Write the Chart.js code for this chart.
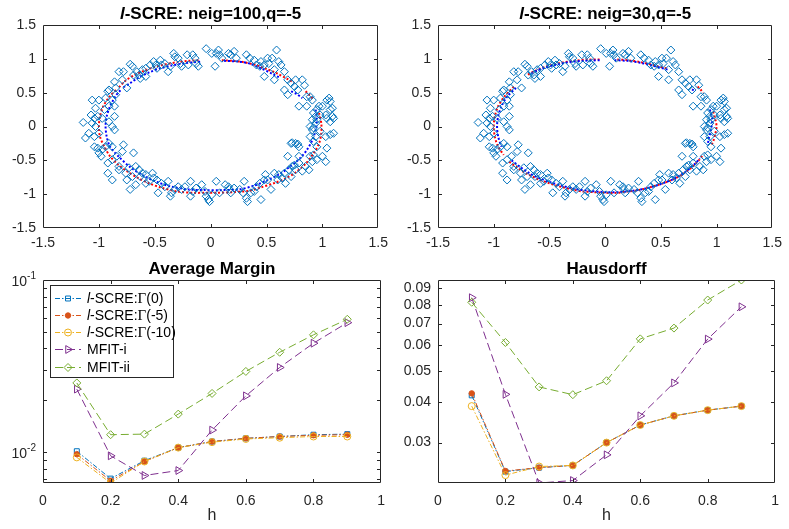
<!DOCTYPE html>
<html>
<head>
<meta charset="utf-8">
<script src="https://cdn.jsdelivr.net/npm/chart.js@4.4.1/dist/chart.umd.min.js"></script>
<style>
  body { margin: 0; background: #fff; width: 789px; height: 529px; position: relative; overflow: hidden; }
  canvas { position: absolute; }
</style>
</head>
<body>
<canvas id="fit100" width="395" height="255" style="left:0;top:0"></canvas>
<canvas id="fit30" width="394" height="255" style="left:395px;top:0"></canvas>
<canvas id="margin" width="395" height="274" style="left:0;top:255px"></canvas>
<canvas id="haus" width="394" height="274" style="left:395px;top:255px"></canvas>
<script>
// noisy samples around the ellipse (same set in both upper panels)
const samplePoints = [
  [-0.72,0.92],[-0.70,0.89],[-0.66,0.81],[-0.64,0.76],[-0.61,0.84],[-0.58,0.86],[-0.54,0.91],[-0.51,0.96],
  [-0.49,0.91],[-0.48,0.86],[-0.45,0.98],[-0.44,0.91],[-0.41,0.93],[-0.38,0.81],[-0.36,0.89],[-0.33,1.08],
  [-0.32,1.03],[-0.29,1.01],[-0.27,0.93],[-0.26,0.89],[-0.21,1.06],[-0.20,0.91],[-0.16,1.06],[-0.14,1.01],
  [-0.13,0.93],[-0.11,0.89],[-0.04,1.15],[0.01,1.08],[0.04,0.89],[0.05,1.08],[0.07,1.13],[0.08,1.06],
  [0.10,1.01],[0.16,1.08],[0.18,1.06],[0.21,1.11],[0.23,1.01],[0.32,1.06],[0.35,1.01],[0.39,0.98],
  [0.41,0.91],[0.44,0.89],[0.45,0.96],[0.48,0.91],[0.51,1.01],[0.52,0.93],[0.55,1.01],[0.57,0.84],
  [0.59,1.13],[0.61,0.96],[0.63,0.91],[0.66,0.81],[0.69,0.69],[0.72,0.64],[0.75,0.59],[0.76,0.69],
  [0.82,0.69],[0.84,0.61],[0.78,0.54],[0.86,0.44],[0.91,0.39],[0.48,0.74],[0.57,0.69],[0.66,0.54],
  [0.79,0.30],[0.69,0.47],
  [-1.00,0.39],[-0.94,0.42],[-0.92,0.52],[-0.91,0.54],[-0.85,0.57],[-0.86,0.66],[-0.82,0.81],[-0.78,0.81],
  [-0.79,0.69],[-0.75,0.57],[-0.86,0.30],[-0.91,0.30],[-1.03,0.27],[-1.06,0.39],[-0.95,0.25],[-0.88,0.39],
  [-0.85,0.47],[-0.69,0.76],[-0.63,0.71],[-0.58,0.74],
  [-1.14,0.06],[-1.12,-0.17],[-1.09,-0.10],[-1.06,0.05],[-1.04,0.12],[-1.03,0.00],[-1.07,0.17],[-1.04,-0.30],
  [-1.01,-0.32],[-1.00,-0.39],[-0.97,-0.34],[-0.94,-0.30],[-0.91,-0.25],[-0.88,-0.30],[-0.86,-0.05],[-0.88,0.00],
  [-0.91,0.07],[-0.86,0.15],[-0.97,0.12],[-1.01,0.15],[-0.78,-0.27],[-1.00,-0.10],[-1.04,-0.15],
  [-0.98,-0.44],[-0.92,-0.54],[-0.88,-0.49],[-0.84,-0.44],[-0.79,-0.37],[-0.92,-0.69],[-0.88,-0.79],[-0.82,-0.64],
  [-0.76,-0.69],[-0.75,-0.79],[-0.70,-0.74],[-0.69,-0.39],[-0.67,-0.59],[-0.64,-0.64],[-0.63,-0.74],[-0.61,-0.69],
  [-0.58,-0.84],[-0.55,-0.81],[-0.52,-0.69],[-0.51,-0.76],[-0.48,-0.79],[-0.47,-0.98],[-0.72,-0.93],[-0.67,-0.86],
  [-0.58,-0.71],[-0.82,-0.59],[-0.73,-0.61],
  [-0.44,-0.84],[-0.41,-0.89],[-0.38,-0.81],[-0.36,-1.03],[-0.35,-0.98],[-0.32,-0.93],[-0.29,-0.89],[-0.26,-0.93],
  [-0.23,-0.89],[-0.18,-0.81],[-0.18,-1.03],[-0.16,-0.96],[-0.13,-0.91],[-0.08,-0.86],[-0.05,-0.96],[-0.04,-1.03],
  [-0.02,-1.08],[-0.01,-1.11],[0.01,-1.01],[0.05,-0.81],[0.08,-0.98],[0.13,-0.86],[0.16,-0.89],[0.17,-0.93],
  [0.18,-0.98],[0.21,-0.91],[0.26,-0.93],[0.29,-0.98],[0.30,-0.81],[0.32,-1.06],[0.33,-1.11],[0.36,-0.98],
  [0.39,-0.96],[0.41,-0.89],[0.44,-0.84],[0.45,-1.08],[0.48,-0.79],[0.49,-0.71],
  [0.51,-0.79],[0.54,-0.93],[0.57,-0.69],[0.60,-0.79],[0.61,-0.71],[0.64,-0.76],[0.66,-0.69],[0.67,-0.84],
  [0.69,-0.44],[0.70,-0.64],[0.72,-0.74],[0.73,-0.59],[0.75,-0.57],[0.76,-0.64],[0.79,-0.54],[0.82,-0.66],
  [0.85,-0.59],[0.88,-0.64],[0.91,-0.52],[0.92,-0.42],[0.95,-0.49],[1.00,-0.44],[1.03,-0.52],[1.04,-0.32],
  [0.89,-0.44],[0.79,-0.44],
  [0.72,-0.25],[0.73,-0.24],[0.76,-0.25],[0.78,-0.26],[0.79,-0.30],[0.95,-0.30],[0.94,-0.15],[0.92,-0.02],
  [0.91,-0.05],[0.94,0.05],[0.95,0.10],[0.91,0.10],[0.92,0.20],[0.95,0.25],[0.97,0.30],[1.00,0.30],
  [1.03,0.17],[1.04,0.12],[1.07,0.07],[1.09,0.15],[1.10,0.12],[1.07,0.25],[1.06,0.42],[1.07,0.37],
  [1.09,0.27],[0.98,-0.07],[1.03,-0.15],[1.07,-0.12],[1.10,-0.10],[0.89,-0.15],[0.92,-0.22],[0.86,0.30],
  [0.89,0.44],[1.04,0.39],[0.89,0.00],[0.94,0.15],[0.98,0.17]
];

// recovered curve pieces, neig=100
const redArcs100 = [
  [[-0.82,0.58],[-0.76,0.68],[-0.68,0.76],[-0.6,0.82],[-0.5,0.88],[-0.4,0.92],[-0.3,0.95],[-0.2,0.97],[-0.1,0.98]],
  [[0.1,0.98],[0.2,0.97],[0.3,0.95],[0.4,0.91],[0.5,0.85],[0.6,0.78],[0.7,0.69],[0.75,0.64]],
  [[0.85,0.52],[0.88,0.47],[0.92,0.4]],
  [[0.97,0.2],[0.99,0.05],[0.99,-0.1],[0.97,-0.25],[0.92,-0.4],[0.85,-0.55],[0.76,-0.68],[0.68,-0.76],[0.58,-0.83],
   [0.45,-0.9],[0.35,-0.95],[0.2,-0.97],[0.05,-0.98],[-0.05,-0.98],[-0.15,-0.98],[-0.3,-0.96],[-0.45,-0.9],
   [-0.55,-0.84],[-0.65,-0.76],[-0.75,-0.66],[-0.83,-0.56],[-0.9,-0.44],[-0.95,-0.3],[-0.99,-0.15],[-1.0,0],
   [-0.99,0.15],[-0.96,0.3],[-0.9,0.45],[-0.84,0.55]]
];
const blueArcs100 = [
  [[-0.78,0.58],[-0.72,0.64],[-0.65,0.72],[-0.55,0.8],[-0.45,0.86],[-0.35,0.9],[-0.25,0.93],[-0.15,0.95],[-0.08,0.96]],
  [[0.12,0.97],[0.25,0.96],[0.35,0.93],[0.45,0.86],[0.55,0.78],[0.62,0.72]],
  [[0.72,0.52],[0.77,0.48],[0.82,0.42]],
  [[0.94,0.25],[0.95,0.1],[0.94,-0.05],[0.91,-0.2],[0.86,-0.35],[0.8,-0.47],[0.72,-0.58],[0.62,-0.7],[0.5,-0.8],
   [0.38,-0.88],[0.25,-0.93],[0.1,-0.94],[-0.05,-0.94],[-0.2,-0.93],[-0.35,-0.89],[-0.48,-0.82],[-0.6,-0.73],
   [-0.72,-0.6],[-0.82,-0.45],[-0.9,-0.3],[-0.93,-0.15],[-0.94,0],[-0.93,0.15],[-0.9,0.3],[-0.85,0.45],[-0.8,0.55]]
];

// recovered curve pieces, neig=30
const redArcs30 = [
  [[-0.82,0.59],[-0.9,0.45],[-0.96,0.3],[-0.99,0.15],[-1.0,0.0],[-0.99,-0.15],[-0.96,-0.3],[-0.91,-0.42]],
  [[-0.86,-0.52],[-0.78,-0.62],[-0.7,-0.7],[-0.6,-0.78],[-0.5,-0.84],[-0.4,-0.89],[-0.3,-0.93],[-0.2,-0.96],
   [-0.1,-0.97],[0.0,-0.98],[0.1,-0.98],[0.2,-0.96],[0.3,-0.94],[0.4,-0.9],[0.5,-0.85],[0.6,-0.79],[0.7,-0.7],
   [0.78,-0.6],[0.84,-0.5],[0.88,-0.42]],
  [[0.97,0.22],[0.99,0.1],[1.0,0.0],[0.99,-0.1],[0.97,-0.22],[0.95,-0.28]],
  [[0.83,0.59],[0.86,0.54],[0.88,0.5]],
  [[0.55,0.86],[0.45,0.9],[0.32,0.95],[0.2,0.98],[0.1,0.99]],
  [[-0.05,0.99],[-0.15,0.99],[-0.28,0.97],[-0.4,0.94],[-0.52,0.89],[-0.63,0.82],[-0.7,0.76]]
];
const blueArcs30 = [
  [[-0.8,0.57],[-0.88,0.44],[-0.93,0.3],[-0.96,0.15],[-0.97,0.0],[-0.96,-0.15],[-0.93,-0.3]],
  [[-0.84,-0.5],[-0.76,-0.6],[-0.68,-0.69],[-0.58,-0.77],[-0.48,-0.83],[-0.38,-0.88],[-0.28,-0.92],[-0.15,-0.95],
   [0.0,-0.97],[0.12,-0.97],[0.25,-0.95],[0.38,-0.91],[0.5,-0.85],[0.62,-0.77],[0.72,-0.67],[0.8,-0.56],[0.85,-0.47]],
  [[0.94,0.25],[0.96,0.1],[0.95,-0.05],[0.93,-0.18],[0.92,-0.28]],
  [[0.78,0.55],[0.81,0.52]],
  [[0.56,0.84],[0.45,0.89],[0.32,0.94],[0.2,0.97],[0.08,0.98]],
  [[-0.05,0.98],[-0.2,0.97],[-0.33,0.95],[-0.45,0.91],[-0.56,0.86],[-0.66,0.79]]
];

const hValues = [0.1, 0.2, 0.3, 0.4, 0.5, 0.6, 0.7, 0.8, 0.9];

const marginG0    = [0.0101, 0.0070, 0.0089, 0.0106, 0.0115, 0.0120, 0.0123, 0.0126, 0.0127];
const marginG5    = [0.0097, 0.0068, 0.0088, 0.0106, 0.0115, 0.0120, 0.0123, 0.0125, 0.0126];
const marginG10   = [0.0093, 0.0066, 0.0088, 0.0106, 0.0114, 0.0119, 0.0121, 0.0123, 0.0123];
const marginMfit1 = [0.0232, 0.0095, 0.0073, 0.0078, 0.0134, 0.0212, 0.0310, 0.0429, 0.0565];
const marginMfit2 = [0.0252, 0.0126, 0.0127, 0.0166, 0.0219, 0.0294, 0.0380, 0.0480, 0.0591];

const hausG0    = [0.0420, 0.0244, 0.0251, 0.0255, 0.0300, 0.0340, 0.0363, 0.0378, 0.0389];
const hausG5    = [0.0426, 0.0245, 0.0251, 0.0255, 0.0300, 0.0340, 0.0363, 0.0378, 0.0389];
const hausG10   = [0.0389, 0.0238, 0.0253, 0.0255, 0.0300, 0.0340, 0.0363, 0.0378, 0.0389];
const hausMfit1 = [0.0842, 0.0423, 0.0225, 0.0229, 0.0275, 0.0363, 0.0459, 0.0627, 0.0789];
const hausMfit2 = [0.0815, 0.0612, 0.0446, 0.0422, 0.0466, 0.0628, 0.0678, 0.0828, 0.0955];

const coordTicks  = [-1.5, -1, -0.5, 0, 0.5, 1, 1.5];
const hTicks      = [0, 0.2, 0.4, 0.6, 0.8, 1];
const marginTicks = [0.007, 0.008, 0.009, 0.01, 0.02, 0.03, 0.04, 0.05, 0.06, 0.07, 0.08, 0.09, 0.1];
const marginDecades = [0.01, 0.1];
const hausTicks   = [0.03, 0.04, 0.05, 0.06, 0.07, 0.08, 0.09];

const AXIS = '#262626';
const FONT = "'Liberation Sans', Arial, Helvetica, sans-serif";
const SERIF = "'Liberation Serif', 'Times New Roman', serif";

const C_BLUE = '#0072BD', C_ORANGE = '#D95319', C_YELLOW = '#EDB120', C_PURPLE = '#7E2F8E', C_GREEN = '#77AC30';

// frame round the plot area with short inward ticks on all four sides
const boxAxes = {
  id: 'boxAxes',
  afterDatasetsDraw(chart) {
    const { ctx, chartArea: a, scales } = chart;
    const L = Math.round(a.left) + 0.5, R = Math.round(a.right) - 0.5;
    const T = Math.round(a.top) + 0.5, B = Math.round(a.bottom) - 0.5;
    const len = 3.5;
    ctx.save();
    ctx.strokeStyle = AXIS;
    ctx.lineWidth = 1;
    ctx.beginPath();
    ctx.rect(L, T, R - L, B - T);
    scales.x.ticks.forEach(t => {
      const px = Math.round(scales.x.getPixelForValue(t.value)) + 0.5;
      if (px <= L + 1 || px >= R - 1) return;
      ctx.moveTo(px, B); ctx.lineTo(px, B - len);
      ctx.moveTo(px, T); ctx.lineTo(px, T + len);
    });
    scales.y.ticks.forEach(t => {
      const py = Math.round(scales.y.getPixelForValue(t.value)) + 0.5;
      if (py <= T + 1 || py >= B - 1) return;
      ctx.moveTo(L, py); ctx.lineTo(L + len, py);
      ctx.moveTo(R, py); ctx.lineTo(R - len, py);
    });
    ctx.stroke();
    ctx.restore();
  }
};

// draws runs of text in different fonts one after another, left to right
function drawRuns(ctx, runs, x, y) {
  runs.forEach(r => {
    ctx.font = r.font;
    ctx.fillText(r.text, x, y);
    x += ctx.measureText(r.text).width;
  });
}
function runsWidth(ctx, runs) {
  return runs.reduce((w, r) => { ctx.font = r.font; return w + ctx.measureText(r.text).width; }, 0);
}

const partTitle = {
  id: 'partTitle',
  afterDraw(chart, args, opts) {
    const { ctx, chartArea: a } = chart;
    ctx.save();
    ctx.fillStyle = '#000';
    ctx.textBaseline = 'alphabetic';
    ctx.textAlign = 'left';
    const w = runsWidth(ctx, opts.runs);
    drawRuns(ctx, opts.runs, (a.left + a.right) / 2 - w / 2, opts.y);
    ctx.restore();
  }
};

// power-of-ten labels with raised exponent
const decadeLabels = {
  id: 'decadeLabels',
  afterDraw(chart, args, opts) {
    if (!opts.values) return;
    const { ctx, scales } = chart;
    ctx.save();
    ctx.fillStyle = AXIS;
    ctx.textBaseline = 'alphabetic';
    ctx.textAlign = 'left';
    opts.values.forEach(v => {
      const py = scales.y.getPixelForValue(v);
      const exp = String(Math.round(Math.log10(v)));
      ctx.font = `14px ${FONT}`;
      const wb = ctx.measureText('10').width;
      ctx.font = `10px ${FONT}`;
      const we = ctx.measureText(exp).width;
      const x0 = opts.right - wb - we;
      ctx.font = `14px ${FONT}`;
      ctx.fillText('10', x0, py + 6);
      ctx.font = `10px ${FONT}`;
      ctx.fillText(exp, x0 + wb, py - 1);
    });
    ctx.restore();
  }
};

const boxLegend = {
  id: 'boxLegend',
  afterDraw(chart, args, opts) {
    if (!opts.entries) return;
    const { ctx } = chart;
    const { left, top, width, height, rowStart, rowStep } = opts;
    ctx.save();
    ctx.fillStyle = '#fff';
    ctx.fillRect(left, top, width, height);
    ctx.strokeStyle = AXIS;
    ctx.lineWidth = 1;
    ctx.strokeRect(left + 0.5, top + 0.5, width, height);
    opts.entries.forEach((e, i) => {
      const ds = chart.data.datasets[e.dataset];
      const y = Math.round(top + rowStart + i * rowStep) + 0.5;
      ctx.strokeStyle = ds.borderColor;
      ctx.lineWidth = ds.borderWidth;
      ctx.setLineDash(ds.borderDash || []);
      ctx.beginPath();
      ctx.moveTo(left + 5, y);
      ctx.lineTo(left + 31, y);
      ctx.stroke();
      ctx.setLineDash([]);
      ctx.fillStyle = ds.pointBackgroundColor;
      ctx.strokeStyle = ds.pointBorderColor;
      Chart.helpers.drawPoint(ctx, {
        pointStyle: ds.pointStyle, rotation: ds.pointRotation || 0,
        radius: ds.pointRadius, borderWidth: ds.pointBorderWidth
      }, left + 18, y);
      ctx.fillStyle = '#000';
      ctx.textBaseline = 'middle';
      ctx.textAlign = 'left';
      drawRuns(ctx, e.runs, left + 37, y + 1);
    });
    ctx.restore();
  }
};

function ticksFrom(list) {
  return scale => { scale.ticks = list.map(v => ({ value: v })); };
}

function axis(type, min, max, list, fit, pad, extra) {
  return Object.assign({
    type, min, max,
    afterBuildTicks: ticksFrom(list),
    afterFit: fit,
    grid: { display: false, drawTicks: false },
    border: { display: false },
    ticks: {
      color: AXIS, font: { family: FONT, size: 14 }, padding: pad,
      autoSkip: false, maxRotation: 0, minRotation: 0,
      callback: v => String(v)
    }
  }, extra || {});
}

function titleRuns(rest) {
  return [
    { text: 'l', font: `italic bold 17px ${FONT}` },
    { text: rest, font: `bold 17px ${FONT}` }
  ];
}

function arcSets(arcs, color) {
  return arcs.map(seg => ({
    type: 'line',
    data: seg.map(p => ({ x: p[0], y: p[1] })),
    borderColor: color,
    borderWidth: 2,
    borderDash: [2, 2],
    pointRadius: 0,
    fill: false,
    tension: 0.3
  }));
}

function ellipsePanel(id, title, redArcs, blueArcs) {
  const datasets = [{
    type: 'scatter',
    data: samplePoints.map(p => ({ x: p[0], y: p[1] })),
    pointStyle: 'rectRot',
    pointRadius: 4,
    pointBorderWidth: 1,
    pointBorderColor: C_BLUE,
    pointBackgroundColor: 'rgba(0,0,0,0)',
    showLine: false
  }].concat(arcSets(blueArcs, '#0000FF'), arcSets(redArcs, '#FF0000'));

  new Chart(document.getElementById(id), {
    type: 'scatter',
    data: { datasets },
    options: {
      responsive: false,
      animation: false,
      events: [],
      layout: { padding: { left: 0, right: 12, top: 25, bottom: 0 } },
      scales: {
        x: axis('linear', -1.5, 1.5, coordTicks, s => { s.height = 27; }, 7, null),
        y: axis('linear', -1.5, 1.5, coordTicks, s => { s.width = 43; }, 7, null)
      },
      plugins: {
        legend: { display: false },
        tooltip: { enabled: false },
        partTitle: { runs: titleRuns(title), y: 18.5 }
      }
    },
    plugins: [boxAxes, partTitle]
  });
}

ellipsePanel('fit100', '-SCRE: neig=100,q=-5', redArcs100, blueArcs100);
ellipsePanel('fit30', '-SCRE: neig=30,q=-5', redArcs30, blueArcs30);

function series(values, color, dash, style, radius, filled, rotation, order) {
  return {
    data: hValues.map((h, i) => ({ x: h, y: values[i] })),
    borderColor: color,
    borderWidth: 1,
    borderDash: dash,
    pointStyle: style,
    pointRadius: radius,
    pointRotation: rotation || 0,
    pointBorderWidth: 1,
    pointBorderColor: color,
    pointBackgroundColor: filled ? color : 'rgba(0,0,0,0)',
    showLine: true,
    fill: false,
    order
  };
}

const DASHDOT = [5, 2, 1.5, 2];
const DASHED = [8, 4];

function errorPanel(id, title, sets, yType, yMin, yMax, yTicks, yLabel, extraPlugins) {
  return new Chart(document.getElementById(id), {
    type: 'scatter',
    data: {
      datasets: [
        series(sets[0], C_BLUE, DASHDOT, 'rect', 3.5, false, 0, 5),
        series(sets[1], C_ORANGE, DASHDOT, 'circle', 2.7, true, 0, 4),
        series(sets[2], C_YELLOW, DASHDOT, 'circle', 3.5, false, 0, 3),
        series(sets[3], C_PURPLE, DASHED, 'triangle', 4.5, false, 90, 2),
        series(sets[4], C_GREEN, DASHED, 'rectRot', 4, false, 0, 1)
      ]
    },
    options: {
      responsive: false,
      animation: false,
      events: [],
      layout: { padding: { left: 0, right: id === 'margin' ? 13 : 12, top: 25, bottom: 0 } },
      scales: {
        x: axis('linear', 0, 1, hTicks, s => { s.height = 46; }, 10, {
          title: { display: true, text: 'h', color: AXIS, font: { family: FONT, size: 16 }, padding: { top: 0, bottom: 4 } }
        }),
        y: Object.assign(axis(yType, yMin, yMax, yTicks, s => { s.width = 43; }, 7, null), {})
      },
      plugins: Object.assign({
        legend: { display: false },
        tooltip: { enabled: false },
        partTitle: { runs: [{ text: title, font: `bold 17px ${FONT}` }], y: 18.5 }
      }, extraPlugins.opts)
    },
    plugins: [boxAxes, partTitle].concat(extraPlugins.list)
  });
}

function legendRuns(tail, isMfit) {
  const f = `14px ${FONT}`;
  if (isMfit) return [{ text: tail, font: f }];
  return [
    { text: 'l', font: `italic 14px ${FONT}` },
    { text: '-SCRE:', font: f },
    { text: 'Γ', font: `15px ${SERIF}` },
    { text: tail, font: f }
  ];
}

const marginChart = errorPanel('margin', 'Average Margin',
  [marginG0, marginG5, marginG10, marginMfit1, marginMfit2],
  'logarithmic', 0.0066, 0.1, marginTicks, null, {
    list: [decadeLabels, boxLegend],
    opts: {
      decadeLabels: { values: marginDecades, right: 36 },
      boxLegend: {
        left: 50, top: 30, width: 123, height: 92, rowStart: 12.5, rowStep: 17.3,
        entries: [
          { dataset: 0, runs: legendRuns('(0)') },
          { dataset: 1, runs: legendRuns('(-5)') },
          { dataset: 2, runs: legendRuns('(-10)') },
          { dataset: 3, runs: legendRuns('MFIT-i', true) },
          { dataset: 4, runs: legendRuns('MFIT-ii', true) }
        ]
      }
    }
  });
// decade labels are drawn by the decadeLabels plugin
marginChart.options.scales.y.ticks.callback = () => '';
marginChart.update();

const hausChart = errorPanel('haus', 'Hausdorff',
  [hausG0, hausG5, hausG10, hausMfit1, hausMfit2],
  'logarithmic', 0.0225, 0.0955, hausTicks, null, { list: [], opts: {} });
hausChart.options.scales.y.ticks.callback = v => v.toFixed(2);
hausChart.update();
</script>
</body>
</html>
